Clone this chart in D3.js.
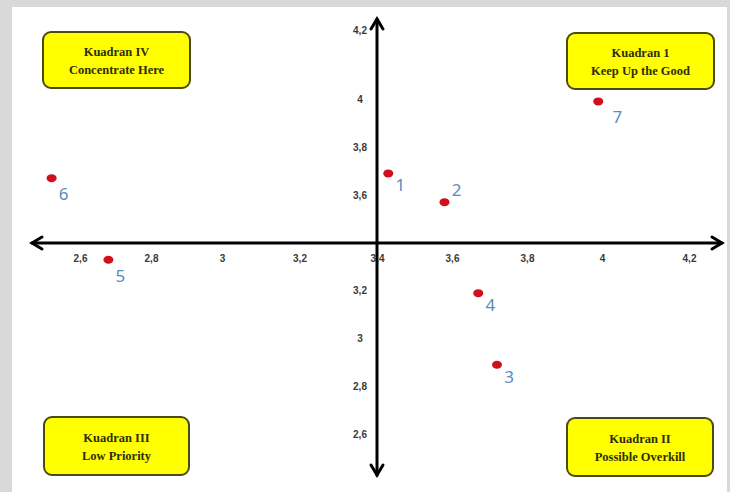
<!DOCTYPE html>
<html>
<head>
<meta charset="utf-8">
<script src="https://cdn.jsdelivr.net/npm/d3@7"></script>
<style>
  html, body { margin: 0; padding: 0; background: #d9d9d9; }
  svg { display: block; }
</style>
</head>
<body>
<svg id="chart" width="730" height="492"></svg>
<script>
// ---- data ----
const xTicks = [2.6, 2.8, 3, 3.2, 3.4, 3.6, 3.8, 4, 4.2];
const yTicks = [4.2, 4, 3.8, 3.6, 3.2, 3, 2.8, 2.6];
const pointIds = [1, 2, 3, 4, 5, 6, 7];
const pointX = [3.43, 3.58, 3.72, 3.67, 2.68, 2.52, 3.99];
const pointY = [3.69, 3.57, 2.89, 3.19, 3.33, 3.67, 3.99];
const quadrantTitles = ["Kuadran IV", "Kuadran 1", "Kuadran III", "Kuadran II"];
const quadrantSubtitles = ["Concentrate Here", "Keep Up the Good", "Low Priority", "Possible Overkill"];
const axisCross = 3.4;

// ---- layout ----
const svg = d3.select("#chart");
svg.append("rect").attr("x", 0).attr("y", 0).attr("width", 730).attr("height", 492).attr("fill", "#d9d9d9");
svg.append("rect").attr("x", 12).attr("y", 7).attr("width", 715).attr("height", 485).attr("fill", "#ffffff");

// the original diagram's tick spacing is uneven, so use piecewise-linear scales
const x = d3.scaleLinear().domain([2.6, 3, 3.4, 4, 4.2]).range([80, 222, 377, 602, 689]);
const y = d3.scaleLinear().domain([2.6, 3.4, 4, 4.2]).range([434, 243, 99, 30]);

const fmt = d => String(d).replace(".", ",");
const cx = x(axisCross), cy = y(axisCross);

// tick labels via d3 axes
const gx = svg.append("g").attr("transform", `translate(0,${cy})`)
  .call(d3.axisBottom(x).tickValues(xTicks).tickFormat(fmt).tickSize(0).tickPadding(12));
gx.select(".domain").remove();
gx.selectAll("text").attr("font-family", "Liberation Sans, Arial, sans-serif")
  .attr("font-size", 10).attr("font-weight", "bold").attr("fill", "#3a3a3a");

const gy = svg.append("g").attr("transform", `translate(${cx},0)`)
  .call(d3.axisLeft(y).tickValues(yTicks).tickFormat(fmt).tickSize(0).tickPadding(17));
gy.select(".domain").remove();
gy.selectAll("text").attr("text-anchor", "middle").attr("font-family", "Liberation Sans, Arial, sans-serif")
  .attr("font-size", 10).attr("font-weight", "bold").attr("fill", "#3a3a3a");

// axis lines with arrows
const axisG = svg.append("g").attr("stroke", "#000").attr("fill", "none")
  .attr("stroke-width", 3).attr("stroke-linecap", "round").attr("stroke-linejoin", "miter");
const xl = 32, xr = 722, yt = 19, yb = 475;
axisG.append("line").attr("x1", xl).attr("x2", xr).attr("y1", cy).attr("y2", cy);
axisG.append("line").attr("x1", cx).attr("x2", cx).attr("y1", yt).attr("y2", yb);
const ah = 10, aw = 6;
axisG.append("path").attr("d", `M${xl + ah},${cy - aw} L${xl},${cy} L${xl + ah},${cy + aw}`);
axisG.append("path").attr("d", `M${xr - ah},${cy - aw} L${xr},${cy} L${xr - ah},${cy + aw}`);
axisG.append("path").attr("d", `M${cx - aw},${yt + ah} L${cx},${yt} L${cx + aw},${yt + ah}`);
axisG.append("path").attr("d", `M${cx - aw},${yb - ah} L${cx},${yb} L${cx + aw},${yb - ah}`);

// quadrant boxes
const boxes = [
  { x: 43, y: 32, w: 147, h: 56 },
  { x: 567, y: 33, w: 147, h: 56 },
  { x: 44, y: 417, w: 145, h: 58 },
  { x: 567, y: 418, w: 146, h: 58 }
];
boxes.forEach((b, i) => {
  const g = svg.append("g");
  g.append("rect").attr("x", b.x).attr("y", b.y).attr("width", b.w).attr("height", b.h)
    .attr("rx", 8).attr("ry", 8).attr("fill", "#ffff00").attr("stroke", "#4a4a14").attr("stroke-width", 2);
  const t = g.append("text").attr("text-anchor", "middle")
    .attr("font-family", "Liberation Serif, Times New Roman, serif")
    .attr("font-weight", "bold").attr("font-size", 12.5).attr("fill", "#2e2e08");
  t.append("tspan").attr("x", b.x + b.w / 2).attr("y", b.y + b.h / 2 - 4).text(quadrantTitles[i]);
  t.append("tspan").attr("x", b.x + b.w / 2).attr("y", b.y + b.h / 2 + 14).text(quadrantSubtitles[i]);
});

// points
const pts = pointIds.map((id, i) => ({ id, vx: pointX[i], vy: pointY[i] }));
svg.append("g").selectAll("ellipse").data(pts).join("ellipse")
  .attr("cx", d => x(d.vx)).attr("cy", d => y(d.vy))
  .attr("rx", 5).attr("ry", 4).attr("fill", "#d0101a");

svg.append("g").selectAll("text").data(pts).join("text")
  .attr("x", d => x(d.vx) + (d.id === 7 ? 19 : 12))
  .attr("y", d => y(d.vy) + (d.id === 2 ? -6 : (d.id === 5 || d.id === 6 || d.id === 7) ? 22 : 18))
  .attr("text-anchor", "middle")
  .attr("font-family", "Noto Sans, Open Sans, sans-serif")
  .attr("font-size", 17).attr("fill", "#5a8cc0")
  .text(d => d.id);
</script>
</body>
</html>
